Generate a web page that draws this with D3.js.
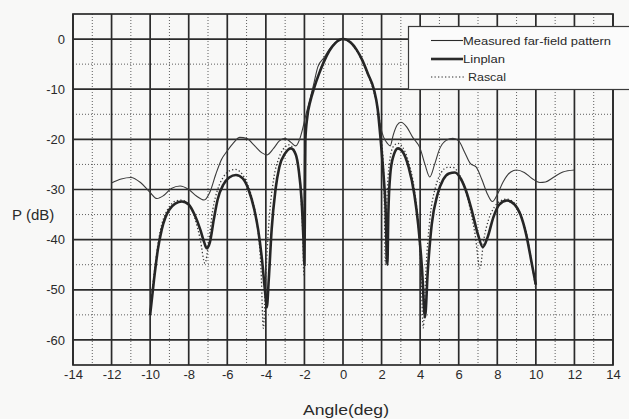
<!DOCTYPE html>
<html>
<head>
<meta charset="utf-8">
<script src="https://cdn.jsdelivr.net/npm/d3@7"></script>
<style>
  html, body { margin: 0; padding: 0; background: #f8f8f7; }
  svg { display: block; }
  text { font-family: "Liberation Sans", Arial, sans-serif; fill: #2a2a2a; }
</style>
</head>
<body>
<svg id="chart" width="629" height="419"></svg>
<script>
// ---- data (angle in degrees, power in dB) ----
const xTicks = [-14, -12, -10, -8, -6, -4, -2, 0, 2, 4, 6, 8, 10, 12, 14];
const yTicks = [0, -10, -20, -30, -40, -50, -60];
const seriesNames = ["Measured far-field pattern", "Linplan", "Rascal"];

const measured = [
  [-12.0,-28.7],[-11.5,-27.9],[-11.0,-27.6],[-10.5,-28.6],[-10.0,-30.6],[-9.65,-31.8],
  [-9.3,-31.2],[-8.9,-29.8],[-8.45,-29.3],[-8.0,-30.0],[-7.6,-31.3],[-7.2,-32.1],
  [-6.9,-30.5],[-6.6,-27.0],[-6.3,-24.0],[-6.0,-22.3],[-5.7,-20.8],[-5.35,-19.6],
  [-5.0,-19.8],[-4.6,-21.2],[-4.2,-22.7],[-3.95,-23.1],[-3.6,-21.8],[-3.3,-20.3],
  [-3.0,-19.8],[-2.7,-20.6],[-2.45,-21.3],[-2.25,-20.0],[-2.1,-18.0],[-1.95,-15.5],
  [-1.75,-12.5],[-1.55,-9.5],[-1.3,-5.5],[-1.0,-3.8],[-0.7,-2.0],[-0.4,-0.7],[0,0],
  [0.4,-0.7],[0.7,-2.1],[1.0,-4.2],[1.3,-7.0],[1.6,-10.0],[1.8,-14.0],[1.95,-17.5],
  [2.1,-19.5],[2.3,-20.8],[2.45,-21.3],[2.6,-19.2],[2.8,-17.2],[3.0,-16.6],[3.3,-17.5],
  [3.6,-19.5],[4.0,-21.8],[4.25,-25.0],[4.5,-27.5],[4.75,-25.0],[5.0,-22.0],[5.35,-20.2],
  [5.7,-19.8],[6.0,-20.3],[6.3,-22.5],[6.6,-24.8],[6.9,-25.5],[7.2,-28.0],[7.5,-31.0],
  [7.75,-32.4],[8.0,-31.0],[8.3,-28.5],[8.7,-26.5],[9.0,-26.1],[9.4,-26.6],[9.8,-27.8],
  [10.2,-28.6],[10.5,-28.5],[10.9,-27.6],[11.4,-26.5],[12.0,-26.1]
];

const linplan = [
  [-10.0,-55.0],[-9.8,-48],[-9.6,-42],[-9.4,-38],[-9.2,-35.5],[-9.0,-34],[-8.7,-32.8],
  [-8.35,-32.4],[-8.0,-33],[-7.7,-35],[-7.4,-38],[-7.2,-40.5],[-7.07,-41.7],[-6.9,-40.5],
  [-6.7,-36],[-6.5,-32],[-6.2,-29],[-5.9,-27.6],[-5.55,-27.1],[-5.2,-27.8],[-4.9,-30],
  [-4.6,-34],[-4.4,-38],[-4.2,-44],[-4.05,-50],[-3.95,-53.5],[-3.85,-48],[-3.7,-38],
  [-3.5,-30],[-3.3,-25.5],[-3.0,-22.8],[-2.7,-21.8],[-2.45,-23],[-2.3,-26],[-2.15,-32],
  [-2.05,-40],[-2.0,-45],[-1.97,-30],[-1.95,-20],[-1.85,-15.5],[-1.7,-12.5],[-1.5,-9.8],
  [-1.25,-7],[-1.0,-4.6],[-0.7,-2.3],[-0.4,-0.8],[0,0],[0.4,-0.7],[0.7,-2.1],[1.0,-4.2],
  [1.3,-7],[1.6,-10],[1.8,-14],[1.95,-20],[2.1,-27],[2.2,-33],[2.3,-45],[2.35,-35],
  [2.45,-27],[2.6,-23.5],[2.85,-21.8],[3.1,-22.5],[3.4,-25.5],[3.7,-31],[3.9,-37],
  [4.1,-46],[4.25,-55.5],[4.4,-46],[4.6,-37],[4.9,-31],[5.2,-28],[5.5,-26.8],[5.8,-26.6],
  [6.1,-27.8],[6.4,-30.5],[6.7,-34.5],[7.0,-39],[7.25,-41.5],[7.5,-39.5],[7.8,-35.5],
  [8.1,-33],[8.5,-32.2],[8.9,-33],[9.2,-35],[9.5,-39],[9.8,-45],[10.0,-49]
];

const rascal = [
  [-10.0,-54],[-9.8,-47],[-9.6,-41],[-9.4,-37],[-9.2,-34.8],[-9.0,-33.4],[-8.7,-32.3],
  [-8.4,-32.1],[-8.0,-33],[-7.7,-35.5],[-7.4,-40],[-7.16,-44.7],[-6.95,-40],[-6.75,-34],
  [-6.5,-30],[-6.2,-27.5],[-5.9,-26.3],[-5.6,-26.0],[-5.3,-26.6],[-5.0,-28.5],[-4.7,-32],
  [-4.45,-37],[-4.25,-46],[-4.13,-57.7],[-4.0,-47],[-3.85,-37],[-3.6,-28],[-3.3,-23.5],
  [-3.0,-21.5],[-2.8,-21.1],[-2.55,-22],[-2.35,-25],[-2.2,-30],[-2.08,-40],[-2.03,-47],
  [-1.99,-30],[-1.96,-20],[-1.87,-15.5],[-1.7,-12.2],[-1.5,-9.5],[-1.25,-6.8],[-1.0,-4.5],
  [-0.7,-2.2],[-0.4,-0.8],[0,0],[0.4,-0.8],[0.7,-2.3],[1.0,-4.4],[1.3,-7.2],[1.6,-10.5],
  [1.85,-15],[2.0,-20],[2.12,-28],[2.2,-45],[2.27,-33],[2.4,-25],[2.6,-21.5],[2.85,-20.8],
  [3.1,-21.6],[3.4,-24.5],[3.7,-30],[3.9,-37],[4.05,-47],[4.16,-57.6],[4.3,-46],[4.5,-36],
  [4.8,-29.5],[5.1,-26.6],[5.4,-25.6],[5.7,-25.6],[6.0,-26.8],[6.3,-29.5],[6.6,-34],
  [6.85,-39],[7.1,-45.7],[7.3,-40],[7.55,-36],[7.85,-33.5],[8.2,-32.2],[8.5,-31.9],
  [8.9,-32.8],[9.2,-34.8],[9.5,-38.5],[9.8,-45],[10.0,-50]
];

// ---- layout ----
const svg = d3.select("#chart");
const x = d3.scaleLinear().domain([-14, 14]).range([73, 613]);
const y = d3.scaleLinear().domain([-65, 5]).range([365, 14]);
const ink = "#2b2b2b";

// minor grid (dotted)
const minorX = d3.range(-13, 14, 2);
const minorY = d3.range(-55, 5, 10);
svg.append("g").selectAll("line").data(minorX).join("line")
  .attr("x1", d => x(d)).attr("x2", d => x(d))
  .attr("y1", y(5)).attr("y2", y(-65))
  .attr("stroke", "#5e5e5e").attr("stroke-width", 1).attr("stroke-dasharray", "1,2");
svg.append("g").selectAll("line").data(minorY).join("line")
  .attr("y1", d => y(d)).attr("y2", d => y(d))
  .attr("x1", x(-14)).attr("x2", x(14))
  .attr("stroke", "#5e5e5e").attr("stroke-width", 1).attr("stroke-dasharray", "1,2");

// major grid (solid)
svg.append("g").selectAll("line").data(xTicks).join("line")
  .attr("x1", d => x(d)).attr("x2", d => x(d))
  .attr("y1", y(5)).attr("y2", y(-65))
  .attr("stroke", ink).attr("stroke-width", 1.7);
svg.append("g").selectAll("line").data(yTicks).join("line")
  .attr("y1", d => y(d)).attr("y2", d => y(d))
  .attr("x1", x(-14)).attr("x2", x(14))
  .attr("stroke", ink).attr("stroke-width", 1.7);
svg.append("rect")
  .attr("x", x(-14)).attr("y", y(5))
  .attr("width", x(14) - x(-14)).attr("height", y(-65) - y(5))
  .attr("fill", "none").attr("stroke", ink).attr("stroke-width", 1.7);

// axes (labels only) - plain hyphen-minus like the original
const fmt = d => String(d);
const xAxis = svg.append("g").attr("transform", `translate(0,${y(-65)})`)
  .call(d3.axisBottom(x).tickValues(xTicks).tickSize(0).tickPadding(5).tickFormat(fmt));
const yAxis = svg.append("g").attr("transform", `translate(${x(-14)},0)`)
  .call(d3.axisLeft(y).tickValues(yTicks).tickSize(0).tickPadding(8).tickFormat(fmt));
[xAxis, yAxis].forEach(g => {
  g.select(".domain").remove();
  g.selectAll("text").attr("font-size", 13).attr("fill", ink)
    .attr("font-family", "'Liberation Sans', Arial, sans-serif");
});

// axis titles
svg.append("text").attr("x", 12).attr("y", 220).attr("font-size", 15).text("P (dB)");
svg.append("text").attr("x", 303).attr("y", 415).attr("font-size", 15)
  .attr("textLength", 86).attr("lengthAdjust", "spacingAndGlyphs").text("Angle(deg)");

// series
const line = d3.line().x(d => x(d[0])).y(d => y(d[1])).curve(d3.curveMonotoneX);
svg.append("path").datum(rascal).attr("d", line)
  .attr("fill", "none").attr("stroke", "#3a3a3a").attr("stroke-width", 1.3)
  .attr("stroke-dasharray", "1.3,2.2");
svg.append("path").datum(measured).attr("d", line)
  .attr("fill", "none").attr("stroke", "#3a3a3a").attr("stroke-width", 1.1);
svg.append("path").datum(linplan).attr("d", line)
  .attr("fill", "none").attr("stroke", "#262626").attr("stroke-width", 2.6);

// legend
const lg = svg.append("g");
lg.append("rect").attr("x", 408.5).attr("y", 26.5).attr("width", 240).attr("height", 63)
  .attr("fill", "#fbfbfb").attr("stroke", "#3a3a3a").attr("stroke-width", 1.2);
const legendStyles = [
  { w: 1.1, dash: null, x2: 463, len: 148 },
  { w: 2.6, dash: null, x2: 463, len: 42 },
  { w: 1.2, dash: "1.3,2.2", x2: 466, len: 38 }
];
const rowsY = [40.5, 59, 77];
seriesNames.forEach((name, i) => {
  const s = legendStyles[i];
  lg.append("line").attr("x1", 431).attr("x2", s.x2).attr("y1", rowsY[i]).attr("y2", rowsY[i])
    .attr("stroke", "#2b2b2b").attr("stroke-width", s.w).attr("stroke-dasharray", s.dash);
  lg.append("text").attr("x", i === 2 ? 468 : 463).attr("y", rowsY[i] + 4)
    .attr("font-size", 11.5).attr("textLength", s.len).attr("lengthAdjust", "spacingAndGlyphs")
    .text(name);
});
</script>
</body>
</html>
